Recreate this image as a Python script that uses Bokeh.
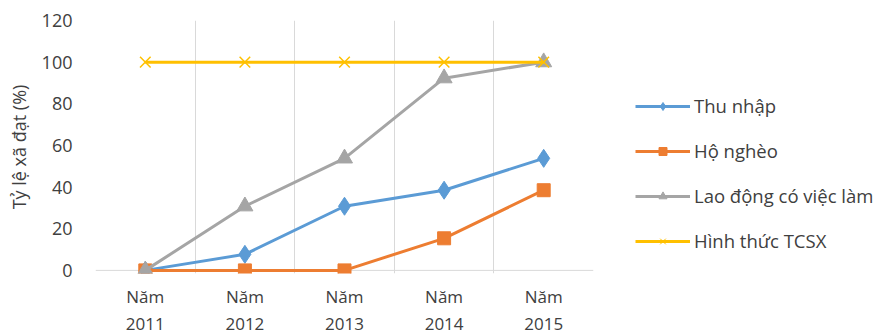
from bokeh.plotting import figure
from bokeh.models import FixedTicker, Legend, LegendItem, Range1d, Span
from bokeh.embed import file_html
from bokeh.resources import INLINE

years = [1, 2, 3, 4, 5]
year_labels = ["Năm\n2011", "Năm\n2012", "Năm\n2013", "Năm\n2014", "Năm\n2015"]
thu_nhap = [0, 7.7, 30.8, 38.5, 53.8]
ho_ngheo = [0, 0, 0, 15.4, 38.5]
lao_dong = [0, 30.8, 53.8, 92.3, 100]
hinh_thuc = [100, 100, 100, 100, 100]
y_ticks = [0, 20, 40, 60, 80, 100, 120]

FONT = "Open Sans"

p = figure(frame_width=498, frame_height=253, output_backend="svg", toolbar_location=None,
           x_range=Range1d(0.5, 5.5), y_range=Range1d(-1.5, 120),
           min_border_left=95, min_border_right=0, min_border_top=20, min_border_bottom=62)
p.outline_line_color = None
p.background_fill_color = "white"
p.border_fill_color = "white"

# grids
p.ygrid.grid_line_color = None
p.xgrid.ticker = FixedTicker(ticks=[0.5, 1.5, 2.5, 3.5, 4.5, 5.5])
p.xgrid.grid_line_color = "#d9d9d9"
p.xgrid.grid_line_width = 1
p.add_layout(Span(location=0, dimension="width", line_color="#d9d9d9", line_width=1, level="underlay"))

# axes
p.xaxis.ticker = FixedTicker(ticks=years)
p.xaxis.major_label_overrides = {y: l for y, l in zip(years, year_labels)}
p.xaxis.axis_line_color = None
p.xaxis.major_tick_line_color = None
p.xaxis.minor_tick_line_color = None
p.xaxis.major_label_text_font = FONT
p.xaxis.major_label_text_font_size = "17px"
p.xaxis.major_label_text_color = "#404040"
p.xaxis.major_label_standoff = 5

p.yaxis.ticker = FixedTicker(ticks=y_ticks)
p.yaxis.axis_line_color = None
p.yaxis.major_tick_line_color = None
p.yaxis.minor_tick_line_color = None
p.yaxis.major_label_text_font = FONT
p.yaxis.major_label_text_font_size = "18px"
p.yaxis.major_label_text_color = "#404040"
p.yaxis.major_label_standoff = 17
p.yaxis.axis_label = "Tỷ lệ xã đạt (%)"
p.yaxis.axis_label_text_font = FONT
p.yaxis.axis_label_text_font_size = "18px"
p.yaxis.axis_label_text_font_style = "normal"
p.yaxis.axis_label_text_color = "#404040"
p.yaxis.axis_label_standoff = 8

blue, orange, gray, yellow = "#5B9BD5", "#ED7D31", "#A5A5A5", "#FFC000"

l1 = p.line(years, thu_nhap, line_color=blue, line_width=3)
m1 = p.scatter(years, thu_nhap, marker="diamond", size=18, fill_color=blue, line_color=blue)
l2 = p.line(years, ho_ngheo, line_color=orange, line_width=3)
m2 = p.scatter(years, ho_ngheo, marker="square", size=13, fill_color=orange, line_color=orange)
l3 = p.line(years, lao_dong, line_color=gray, line_width=3)
m3 = p.scatter(years, lao_dong, marker="triangle", size=16, fill_color=gray, line_color=gray)
l4 = p.line(years, hinh_thuc, line_color=yellow, line_width=3)
m4 = p.scatter(years, hinh_thuc, marker="x", size=15, line_color=yellow, line_width=1.5)

# legend glyph proxies (smaller markers)
g1 = p.scatter([1], [0], marker="diamond", size=8, fill_color=blue, line_color=blue, visible=False)
g2 = p.scatter([1], [0], marker="square", size=8, fill_color=orange, line_color=orange, visible=False)
g3 = p.scatter([1], [0], marker="triangle", size=8, fill_color=gray, line_color=gray, visible=False)
g4 = p.scatter([1], [0], marker="x", size=8, line_color=yellow, visible=False)

items = [
    LegendItem(label="Thu nhập", renderers=[l1, g1]),
    LegendItem(label="Hộ nghèo", renderers=[l2, g2]),
    LegendItem(label="Lao động có việc làm", renderers=[l3, g3]),
    LegendItem(label="Hình thức TCSX", renderers=[l4, g4]),
]
legend = Legend(items=items, location=(42, 20), orientation="vertical",
                border_line_color=None, background_fill_alpha=0,
                label_text_font=FONT, label_text_font_size="18.5px", label_text_color="#404040",
                glyph_width=55, glyph_height=20, spacing=20, label_standoff=4,
                padding=0, margin=0)
p.add_layout(legend, "right")

open("out.html", "w").write(file_html(p, INLINE))
